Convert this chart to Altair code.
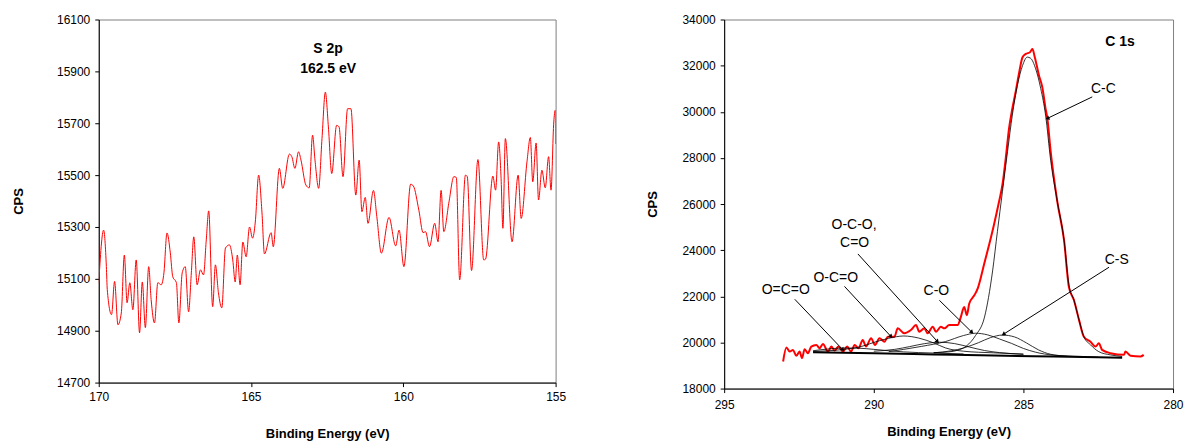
import math
import altair as alt
import pandas as pd

FONT = "Liberation Sans"

# ---------------- S 2p spectrum (left panel) ----------------
s2p_energy = [170.00, 169.84, 169.75, 169.72, 169.58, 169.48, 169.37, 169.26, 169.16, 169.07,
              168.98, 168.88, 168.77, 168.66, 168.57, 168.47, 168.36, 168.28, 168.17, 168.06,
              167.95, 167.86, 167.76, 167.65, 167.57, 167.45, 167.37, 167.26, 167.16, 167.05,
              166.96, 166.88, 166.77, 166.66, 166.56, 166.47, 166.39, 166.26, 166.17, 166.07,
              165.96, 165.84, 165.71, 165.60, 165.52, 165.45, 165.36, 165.27, 165.16, 165.05,
              164.95, 164.86, 164.75, 164.64, 164.56, 164.34, 164.27, 164.07, 163.96, 163.74,
              163.66, 163.56, 163.44, 163.36, 163.20, 163.09, 162.98, 162.90, 162.78, 162.67,
              162.56, 162.46, 162.35, 162.19, 162.11, 161.98, 161.83, 161.72, 161.56, 161.45,
              161.36, 161.25, 161.16, 160.98, 160.87, 160.72, 160.47, 160.25, 160.14, 159.98,
              159.76, 159.67, 159.49, 159.35, 159.27, 159.14, 158.97, 158.86, 158.76, 158.67,
              158.50, 158.34, 158.26, 158.15, 157.96, 157.90, 157.76, 157.55, 157.36, 157.30,
              157.06, 156.97, 156.87, 156.79, 156.73, 156.65, 156.43, 156.23, 156.13, 155.94,
              155.83, 155.75, 155.64, 155.56, 155.45, 155.34, 155.23, 155.15, 155.06, 155.01,
              155.00]
s2p_cps = [15085, 15288, 15147, 15058, 14962, 15090, 14923, 14968, 15192, 15008,
           15085, 14981, 15173, 14892, 15088, 14912, 15147, 15020, 14930, 15085,
           15077, 15123, 15277, 15200, 15108, 15085, 14930, 15123, 15147, 14973,
           15123, 15262, 15077, 15135, 15115, 15250, 15362, 14993, 15154, 15046,
           14988, 15219, 15231, 15173, 15088, 15192, 15077, 15242, 15185, 15300,
           15257, 15319, 15500, 15354, 15196, 15278, 15224, 15526, 15449, 15581,
           15571, 15526, 15590, 15558, 15462, 15451, 15654, 15558, 15449, 15641,
           15820, 15686, 15506, 15692, 15686, 15494, 15756, 15756, 15423, 15558,
           15359, 15414, 15314, 15441, 15340, 15199, 15337, 15227, 15288, 15147,
           15465, 15458, 15365, 15278, 15282, 15224, 15314, 15243, 15441, 15282,
           15397, 15494, 15491, 15096, 15500, 15494, 15132, 15560, 15173, 15176,
           15496, 15442, 15628, 15487, 15295, 15641, 15243, 15500, 15333, 15551,
           15645, 15474, 15624, 15404, 15519, 15451, 15571, 15442, 15705, 15750,
           15620]
s2p_title = ["S 2p", "162.5 eV"]
s2p_title_energy = [162.47, 162.47]
s2p_title_cps = [15986, 15908]

# ---------------- C 1s spectrum (right panel) ----------------
c1s_energy = [293.03, 292.92, 292.81, 292.70, 292.59, 292.48, 292.40, 292.31, 292.20, 292.09,
              291.92, 291.81, 291.70, 291.53, 291.42, 291.31, 291.18, 291.03, 290.89, 290.76,
              290.64, 290.51, 290.37, 290.26, 290.09, 289.96, 289.81, 289.64, 289.53, 289.31,
              289.20, 288.98, 288.76, 288.59, 288.48, 288.31, 288.20, 288.03, 287.92, 287.76,
              287.64, 287.48, 287.20, 287.09, 286.98, 286.89, 286.81, 286.64, 286.53, 286.42,
              286.31, 286.14, 285.98, 285.81, 285.70, 285.59, 285.48, 285.37, 285.26, 285.14,
              285.03, 284.92, 284.78, 284.70, 284.62, 284.48, 284.37, 284.26, 284.20, 284.09,
              283.87, 283.64, 283.48, 283.31, 283.14, 282.98, 282.76, 282.59, 282.48, 282.37,
              282.09, 281.64, 281.59, 281.42, 281.09, 280.98]
c1s_cps = [19174, 19776, 19604, 19677, 19419, 19604, 19320, 19708, 19535, 19819,
           19892, 19750, 19935, 19604, 19819, 19647, 19819, 19604, 19819, 19604,
           19892, 19750, 20107, 19819, 20181, 19892, 20181, 20034, 20249, 20249,
           20611, 20396, 20538, 20753, 20464, 20611, 20396, 20680, 20464, 20680,
           20611, 20753, 20753, 21110, 21540, 21183, 21686, 22043, 22331, 22830,
           23407, 24267, 25127, 26129, 26847, 27990, 29280, 30140, 30861, 31720,
           32366, 32509, 32581, 32724, 32366, 31577, 31075, 30140, 29712, 28279,
           26129, 24409, 22400, 21828, 20968, 20250, 20034, 19819, 19965, 19677,
           19535, 19462, 19604, 19419, 19390, 19462]

# fitted background and components
bg_energy = [292.03, 290.0, 288.0, 286.0, 284.0, 282.5, 281.7]
bg_cps = [19570, 19530, 19480, 19430, 19390, 19360, 19340]

oco2_energy = [292.03, 291.5, 291.0, 290.5, 290.0, 289.5, 289.0, 288.0, 287.0]
oco2_cps = [19640, 19720, 19760, 19750, 19700, 19640, 19590, 19540, 19500]

ocoo_energy = [292.03, 291.0, 290.4, 290.0, 289.5, 289.0, 288.5, 288.0, 287.6, 287.0, 286.0, 285.0]
ocoo_cps = [19610, 19700, 19830, 20000, 20180, 20280, 20190, 19980, 19760, 19620, 19550, 19500]

oco_energy = [290.0, 289.3, 288.8, 288.3, 287.8, 287.3, 286.8, 286.3, 285.8, 285.0]
oco_cps = [19620, 19700, 19820, 19950, 20010, 19950, 19800, 19650, 19560, 19480]

co_energy = [289.5, 289.0, 288.4, 287.6, 287.0, 286.6, 286.2, 285.8, 285.4, 285.0, 284.6, 284.0, 283.0]
co_cps = [19600, 19700, 19830, 20040, 20300, 20400, 20330, 20150, 19960, 19740, 19580, 19450, 19390]

cs_energy = [288.0, 287.4, 287.0, 286.5, 286.1, 285.7, 285.3, 284.9, 284.5, 284.1, 283.5, 282.5]
cs_cps = [19550, 19640, 19760, 19990, 20210, 20320, 20240, 19980, 19680, 19490, 19400, 19360]

cc_energy = [288.0, 287.5, 287.2, 286.9, 286.6, 286.3, 286.03, 285.87, 285.70, 285.53,
             285.37, 285.20, 285.03, 284.87, 284.76, 284.59, 284.42, 284.26, 284.09, 283.87,
             283.64, 283.48, 283.31, 283.14, 282.98, 282.76, 282.48, 282.09, 281.70]
cc_cps = [19560, 19590, 19660, 19850, 20300, 21100, 23100, 24800, 26550, 28280,
          29860, 31150, 32000, 32370, 32320, 31860, 31000, 29860, 27900, 26129,
          24409, 22500, 21828, 20968, 20250, 19900, 19600, 19460, 19390]

# annotation labels
ann_text = ["C 1s", "C-C", "C-S", "C-O", "O-C-O,", "C=O", "O-C=O", "O=C=O"]
ann_energy = [281.77, 282.33, 281.88, 287.91, 290.66, 290.64, 291.27, 292.94]
ann_cps = [33011, 30968, 23591, 22215, 25097, 24301, 22796, 22258]
ann_bold = [True, False, False, False, False, False, False, False]

# annotation arrows: start -> tip
arr_e1 = [282.70, 282.14, 287.81, 290.53, 290.98, 292.64]
arr_c1 = [30645, 23260, 21828, 23836, 22430, 21871]
arr_e2 = [284.20, 285.67, 286.72, 287.87, 289.42, 291.03]
arr_c2 = [29712, 20353, 20439, 20034, 20249, 19677]

# ---------------- layout ----------------
LW, LH = 458, 364
RW, RH = 450, 370
L_DOM_X = [155, 170]
L_DOM_Y = [14700, 16100]
R_DOM_X = [280, 295]
R_DOM_Y = [18000, 34000]

lx = alt.X("E:Q", scale=alt.Scale(domain=L_DOM_X, reverse=True, nice=False, zero=False),
           axis=alt.Axis(values=[155, 160, 165, 170], title="Binding Energy (eV)", format="d",
                         labelPadding=5, titlePadding=25, labelFlush=False))
ly = alt.Y("cps:Q", scale=alt.Scale(domain=L_DOM_Y, nice=False, zero=False),
           axis=alt.Axis(values=list(range(14700, 16101, 200)), title="CPS", format="d",
                         titlePadding=31, labelFlush=False))

rx = alt.X("E:Q", scale=alt.Scale(domain=R_DOM_X, reverse=True, nice=False, zero=False),
           axis=alt.Axis(values=[280, 285, 290, 295], title="Binding Energy (eV)", format="d",
                         labelPadding=7, titlePadding=15, labelFlush=False))
ry = alt.Y("cps:Q", scale=alt.Scale(domain=R_DOM_Y, nice=False, zero=False),
           axis=alt.Axis(values=list(range(18000, 34001, 2000)), title="CPS", format="d",
                         titlePadding=22, labelFlush=False))

# left panel
s2p_df = pd.DataFrame({"E": s2p_energy, "cps": s2p_cps})
left_line = alt.Chart(s2p_df).mark_line(color="#ff0000", strokeWidth=1,
                                        interpolate="monotone", clip=True).encode(x=lx, y=ly)
left_txt = alt.Chart(pd.DataFrame({"E": s2p_title_energy, "cps": s2p_title_cps, "t": s2p_title})).mark_text(
    font=FONT, fontSize=14, fontWeight="bold", color="black", align="center", baseline="middle"
).encode(x=lx, y=ly, text="t:N")
left = alt.layer(left_line, left_txt).properties(width=LW, height=LH)

# right panel
comp_rows = []
for name, es, cs in [("OCO2", oco2_energy, oco2_cps), ("OCOO", ocoo_energy, ocoo_cps),
                     ("OCO", oco_energy, oco_cps), ("CO", co_energy, co_cps),
                     ("CS", cs_energy, cs_cps), ("CC", cc_energy, cc_cps)]:
    for e, c in zip(es, cs):
        comp_rows.append({"E": e, "cps": c, "comp": name})
comp_df = pd.DataFrame(comp_rows)

c1s_df = pd.DataFrame({"E": c1s_energy, "cps": c1s_cps})
bg_df = pd.DataFrame({"E": bg_energy, "cps": bg_cps})

red = alt.Chart(c1s_df).mark_line(color="#ff0000", strokeWidth=2, interpolate="monotone").encode(x=rx, y=ry)
comps = alt.Chart(comp_df).mark_line(color="black", strokeWidth=0.8, interpolate="monotone").encode(
    x=rx, y=ry, detail="comp:N")
bg = alt.Chart(bg_df).mark_line(color="black", strokeWidth=2, interpolate="monotone").encode(x=rx, y=ry)

ann_df = pd.DataFrame({"E": ann_energy, "cps": ann_cps, "t": ann_text, "bold": ann_bold})
ann_reg = alt.Chart(ann_df[~ann_df["bold"]]).mark_text(
    font=FONT, fontSize=14, color="black", align="center", baseline="middle").encode(x=rx, y=ry, text="t:N")
ann_bld = alt.Chart(ann_df[ann_df["bold"]]).mark_text(
    font=FONT, fontSize=14, fontWeight="bold", color="black", align="center", baseline="middle").encode(
    x=rx, y=ry, text="t:N")

px_e = RW / (R_DOM_X[1] - R_DOM_X[0])
px_c = RH / (R_DOM_Y[1] - R_DOM_Y[0])
angles = []
for e1, c1, e2, c2 in zip(arr_e1, arr_c1, arr_e2, arr_c2):
    dx = (e1 - e2) * px_e
    dy = (c1 - c2) * px_c
    angles.append(math.degrees(math.atan2(dx, -dy)) % 360)
arr_df = pd.DataFrame({"E": arr_e1, "cps": arr_c1, "E2": arr_e2, "cps2": arr_c2, "ang": angles})
arr_lines = alt.Chart(arr_df).mark_rule(color="black", strokeWidth=1).encode(
    x=rx, y=ry, x2="E2:Q", y2="cps2:Q")
heads = alt.Chart(arr_df).mark_point(shape="triangle-up", filled=True, color="black",
                                     size=22, opacity=1).encode(
    x=alt.X("E2:Q", scale=alt.Scale(domain=R_DOM_X, reverse=True, nice=False, zero=False)),
    y=alt.Y("cps2:Q", scale=alt.Scale(domain=R_DOM_Y, nice=False, zero=False)),
    angle=alt.Angle("ang:Q", scale=None))

right = alt.layer(red, comps, bg, arr_lines, heads, ann_reg, ann_bld).properties(width=RW, height=RH)

chart = alt.hconcat(left, right, spacing=80).properties(
    padding={"left": 12, "top": 12, "right": 5, "bottom": 0}
).configure_axis(
    labelFont=FONT, labelFontSize=12, labelColor="black",
    titleFont=FONT, titleFontSize=13, titleFontWeight="bold", titleColor="black",
    domainColor="black", tickColor="black", tickSize=4, grid=False, labelPadding=5
).configure_view(stroke="#808080", strokeWidth=1)

chart.save("out.html", embed_options={"renderer": "svg", "actions": False})
